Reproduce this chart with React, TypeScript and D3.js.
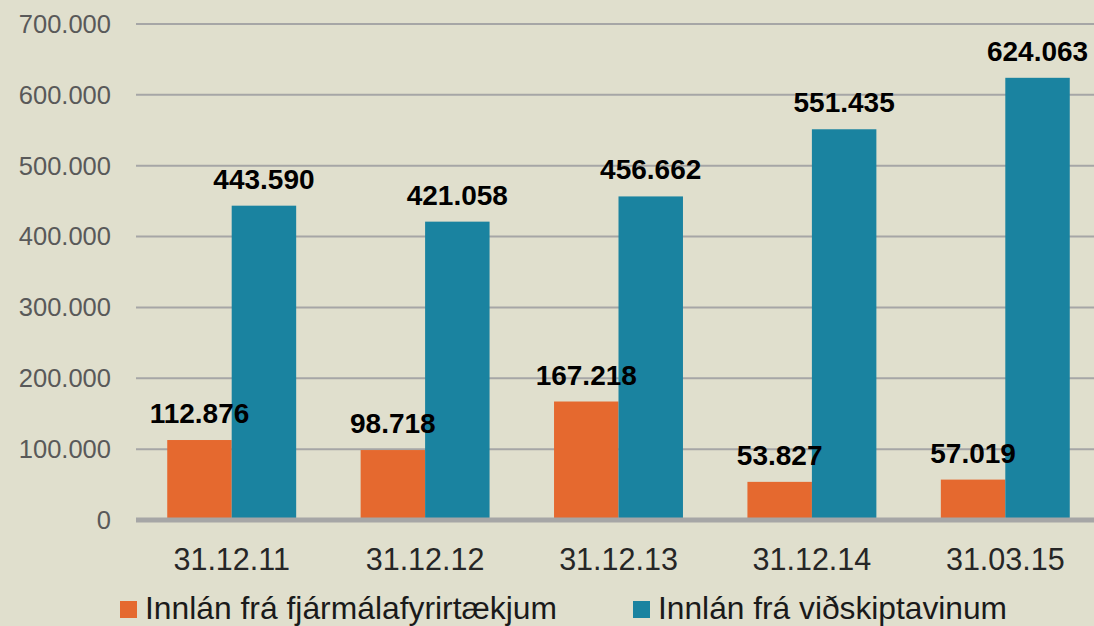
import React from "react";
import * as d3 from "d3";

const dates = ["31.12.11", "31.12.12", "31.12.13", "31.12.14", "31.03.15"];
const fjarmala = [112876, 98718, 167218, 53827, 57019];
const vidskipta = [443590, 421058, 456662, 551435, 624063];
const yTicks = [0, 100000, 200000, 300000, 400000, 500000, 600000, 700000];
const seriesNames = ["Innlán frá fjármálafyrirtækjum", "Innlán frá viðskiptavinum"];

const W = 1094;
const H = 626;
const BG = "#e0dfcd";
const ORANGE = "#e5692f";
const TEAL = "#1a83a0";
const GRID = "#a6a6a6";
const FONT = "Liberation Sans, Arial, sans-serif";

// thousands separated with dots, as in the source
const fmt = (v: number) => d3.format(",")(v).replace(/,/g, ".");

export default function App() {
  const x = d3.scaleBand<string>().domain(dates).range([135, 1102]).paddingInner(0).paddingOuter(0);
  const y = d3.scaleLinear().domain([0, 700000]).range([520, 24]);
  const inner = d3
    .scaleBand<number>()
    .domain([0, 1])
    .range([x.bandwidth() / 6, (x.bandwidth() * 5) / 6]);

  const series = [fjarmala, vidskipta];
  const colors = [ORANGE, TEAL];

  return (
    <svg
      width={W}
      height={H}
      style={{ position: "absolute", left: 0, top: 0, background: BG }}
      fontFamily={FONT}
    >
      <rect width={W} height={H} fill={BG} />
      {yTicks.slice(1).map((t) => (
        <line key={t} x1={136} x2={W} y1={y(t)} y2={y(t)} stroke={GRID} strokeWidth={2} />
      ))}
      {yTicks.map((t) => (
        <text
          key={"l" + t}
          x={111}
          y={y(t)}
          dy="0.35em"
          textAnchor="end"
          fontSize={25.5}
          fill="#595959"
        >
          {fmt(t)}
        </text>
      ))}
      {series.map((vals, si) =>
        vals.map((v, i) => {
          const bx = (x(dates[i]) as number) + (inner(si) as number);
          return (
            <rect
              key={si + "-" + i}
              x={bx}
              y={y(v)}
              width={inner.bandwidth()}
              height={y(0) - y(v)}
              fill={colors[si]}
            />
          );
        })
      )}
      <line x1={136} x2={W} y1={y(0)} y2={y(0)} stroke={GRID} strokeWidth={5} />
      {series.map((vals, si) =>
        vals.map((v, i) => {
          const cx = (x(dates[i]) as number) + (inner(si) as number) + inner.bandwidth() / 2;
          return (
            <text
              key={"v" + si + "-" + i}
              x={cx}
              y={y(v) - 17}
              textAnchor="middle"
              fontSize={28}
              fontWeight="bold"
              fill="#000"
            >
              {fmt(v)}
            </text>
          );
        })
      )}
      {dates.map((d) => (
        <text
          key={d}
          x={(x(d) as number) + x.bandwidth() / 2}
          y={570}
          textAnchor="middle"
          fontSize={30.5}
          fill="#262626"
        >
          {d}
        </text>
      ))}
      {seriesNames.map((name, i) => {
        const lx = [120, 633][i];
        const len = [412, 349][i];
        return (
          <g key={name}>
            <rect x={lx} y={601} width={17} height={17} fill={colors[i]} />
            <text
              x={lx + 25}
              y={619}
              fontSize={30.5}
              fill="#1a1a1a"
              textLength={len}
              lengthAdjust="spacingAndGlyphs"
            >
              {name}
            </text>
          </g>
        );
      })}
    </svg>
  );
}
